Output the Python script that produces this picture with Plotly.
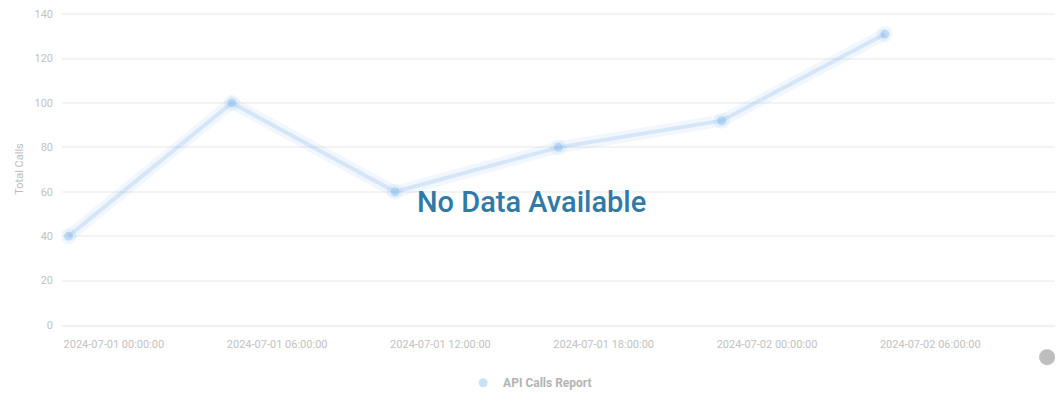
import plotly.graph_objects as go

dates = ["2024-07-01 00:00:00", "2024-07-01 06:00:00", "2024-07-01 12:00:00",
         "2024-07-01 18:00:00", "2024-07-02 00:00:00", "2024-07-02 06:00:00"]
calls = [40, 100, 60, 80, 92, 131]
y_ticks = [0, 20, 40, 60, 80, 100, 120, 140]
y_title = "Total Calls"
series_name = "API Calls Report"
overlay_text = "No Data Available"

# the original is blurred, so everything behind the overlay is kept pale
pale_txt = dict(family="Roboto", size=11, color="#c2c2c2")

fig = go.Figure()

# soft halo + core line to fake the blur
fig.add_trace(go.Scatter(x=dates, y=calls, mode="lines+markers", showlegend=False,
                         line=dict(color="rgba(124,181,236,0.10)", width=12),
                         marker=dict(size=16, color="rgba(124,181,236,0.12)"),
                         hoverinfo="skip"))
fig.add_trace(go.Scatter(x=dates, y=calls, mode="lines+markers", showlegend=False,
                         name=series_name,
                         line=dict(color="rgba(124,181,236,0.25)", width=4),
                         marker=dict(size=9, color="rgba(124,181,236,0.40)")))
# legend entry only shows the dot
fig.add_trace(go.Scatter(x=[None], y=[None], mode="markers", name=series_name,
                         marker=dict(size=9, color="rgba(124,181,236,0.40)")))

fig.update_xaxes(type="category", range=[-0.04, 6.06], automargin=False,
                 tickfont=pale_txt, ticklabelposition="outside right",
                 ticklabelshift=-6, ticklabelstandoff=8, showgrid=False, showline=True,
                 linecolor="#eef1f8", linewidth=2, ticks="", zeroline=False)
fig.update_yaxes(range=[0, 140.5], tickvals=y_ticks, tickfont=pale_txt, automargin=False,
                 ticklabeloverflow="allow",
                 showgrid=True, gridcolor="#f3f3f3", gridwidth=2, zeroline=False,
                 ticklabelstandoff=8,
                 title=dict(text=y_title, font=dict(family="Roboto", size=11, color="#bdbdbd"),
                            standoff=8))

fig.add_annotation(text=overlay_text, xref="paper", yref="paper",
                   x=0.471, y=0.395, showarrow=False,
                   font=dict(family="Roboto", size=29, color="#2f7aa6", weight=500))

# grey round button bottom right
fig.add_shape(type="circle", xref="paper", yref="paper",
              xsizemode="pixel", ysizemode="pixel",
              xanchor=0.989, yanchor=-0.103, x0=-8, x1=8, y0=-8, y1=8,
              fillcolor="rgba(110,110,110,0.45)", line=dict(width=0))

# page body has an 8px margin, so the figure is 8px smaller than the window
fig.update_layout(
    width=1055, height=394,
    margin=dict(l=54, r=5, t=5, b=77, autoexpand=False),
    plot_bgcolor="white", paper_bgcolor="white",
    showlegend=True,
    legend=dict(orientation="h", x=0.47, xanchor="center", y=-0.185, yanchor="middle",
                font=dict(family="Roboto", size=12, color="#b3b3b3", weight="bold")),
)

fig.write_html("out.html")
